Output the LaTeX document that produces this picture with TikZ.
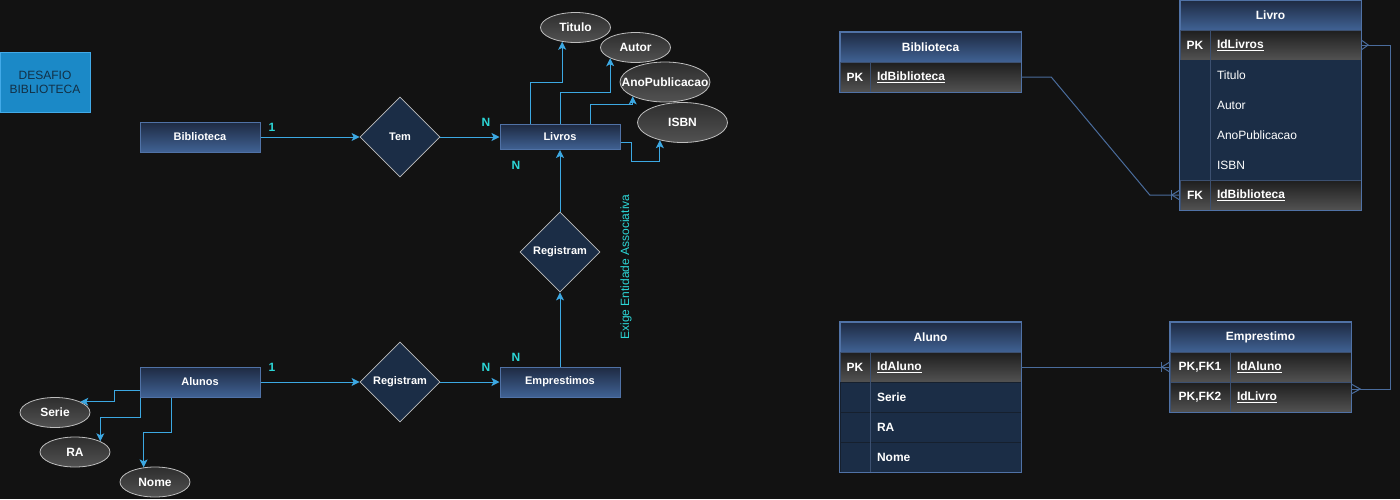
\documentclass[tikz,border=0pt]{standalone}
\usepackage{fontspec}
\setmainfont{Liberation Sans}
\usepackage{xcolor}
\usepackage{tikz}
\usetikzlibrary{shapes.geometric, arrows.meta, positioning, calc, fit}
\definecolor{bgdark}{RGB}{18, 18, 18}
\definecolor{navytop}{RGB}{30, 42, 66}
\definecolor{navybot}{RGB}{64, 98, 148}
\definecolor{navyline}{RGB}{80, 114, 166}
\definecolor{rowfill}{RGB}{27, 45, 70}
\definecolor{rowsep}{RGB}{22, 32, 46}
\definecolor{keytop}{RGB}{30, 30, 30}
\definecolor{keybot}{RGB}{82, 82, 82}
\definecolor{divline}{RGB}{60, 80, 112}
\definecolor{arrowblue}{RGB}{60, 168, 226}
\definecolor{labelcyan}{RGB}{44, 214, 214}
\definecolor{ellline}{RGB}{190, 190, 190}
\definecolor{elltop}{RGB}{46, 46, 46}
\definecolor{ellbot}{RGB}{82, 82, 82}
\definecolor{erblue}{RGB}{74, 108, 156}
\definecolor{desafiofill}{RGB}{27, 137, 199}
\definecolor{desafioline}{RGB}{66, 170, 232}
\definecolor{desafiotext}{RGB}{18, 48, 70}

\begin{document}
\begin{tikzpicture}[
    x=1pt, y=-1pt,
    entity/.style={rectangle, draw=navyline, top color=navytop, bottom color=navybot, line width=1pt, minimum width=120pt, minimum height=30pt, inner sep=0pt, text=white, font=\fontsize{11}{13}\selectfont\bfseries},
    rel/.style={diamond, draw=ellline, fill=rowfill, line width=0.8pt, minimum width=80pt, minimum height=80pt, inner sep=0pt, text=white, font=\fontsize{11}{13}\selectfont\bfseries},
    attr/.style={ellipse, draw=ellline, top color=elltop, bottom color=ellbot, line width=0.8pt, minimum width=70pt, minimum height=30pt, inner sep=0pt, text=white, font=\fontsize{12}{14}\selectfont\bfseries},
    card/.style={inner sep=0pt, text=labelcyan, font=\fontsize{12}{14}\selectfont\bfseries},
    arrow/.style={-{Stealth[length=8pt, width=8pt, inset=2pt]}, draw=arrowblue, line width=1pt},
    thead/.style={rectangle, draw=navyline, top color=navytop, bottom color=navybot, minimum width=181pt, minimum height=30pt, inner sep=0pt, text=white, font=\fontsize{12}{14}\selectfont\bfseries},
    keycell/.style={rectangle, draw=divline, top color=keytop, bottom color=keybot, minimum width=30pt, minimum height=30pt, inner sep=0pt, text=white, font=\fontsize{12}{14}\selectfont\bfseries},
    keyfield/.style={rectangle, draw=divline, top color=keytop, bottom color=keybot, text width=137pt, align=left, minimum height=30pt, inner xsep=7pt, inner ysep=0pt, text=white, font=\fontsize{12}{14}\selectfont\bfseries},
    attrcell/.style={rectangle, fill=rowfill, minimum width=30pt, minimum height=30pt, inner sep=0pt},
    attrfield/.style={rectangle, fill=rowfill, text width=137pt, align=left, minimum height=30pt, inner xsep=7pt, inner ysep=0pt, text=white, font=\fontsize{12}{14}\selectfont},
    frame/.style={rectangle, draw=navyline, line width=0.8pt, inner sep=0pt},
    divider/.style={draw=divline, line width=0.8pt},
    erline/.style={draw=erblue, line width=1pt}
]
    \useasboundingbox (0,0) rectangle (1400,499);
    \fill[bgdark] (0,0) rectangle (1400,499);

    % Conceptual model
    \node[rectangle, draw=desafioline, fill=desafiofill, line width=1pt, minimum width=90pt, minimum height=60pt, inner sep=0pt, align=center, text=desafiotext, font=\fontsize{12}{14}\selectfont] (desafio) at (45,82) {DESAFIO\\BIBLIOTECA};
    \node[entity] (biblioteca) at (200,137) {Biblioteca};
    \node[rel] (tem) at (400,137) {Tem};
    \node[entity, minimum height=25pt] (livros) at (560,137) {Livros};
    \node[attr] (titulo) at (575.5,27.5) {Titulo};
    \node[attr] (autor) at (635.5,47.5) {Autor};
    \node[attr, minimum width=90pt, minimum height=40pt, inner xsep=-14pt] (ano) at (665,82) {AnoPublicacao};
    \node[attr, minimum width=90pt, minimum height=40pt] (isbn) at (682.5,122.5) {ISBN};
    \node[rel] (regliv) at (560,252) {Registram};
    \node[entity] (emprestimos) at (560,382) {Emprestimos};
    \node[rel] (regalu) at (400,382) {Registram};
    \node[entity] (alunos) at (200,382) {Alunos};
    \node[attr] (serie) at (55,412.5) {Serie};
    \node[attr] (ra) at (75,452) {RA};
    \node[attr] (nome) at (155,482) {Nome};
    \node[rotate=90, inner sep=0pt, text=labelcyan, font=\fontsize{12}{14}\selectfont] (exige) at (626,267) {Exige Entidade Associativa};

    % Cardinalities
    \node[card] (card1) at (272,127) {1};
    \node[card] (card2) at (486,122) {N};
    \node[card] (card3) at (516,165) {N};
    \node[card] (card4) at (272,367) {1};
    \node[card] (card5) at (486,367) {N};
    \node[card] (card6) at (516,357) {N};

    % Arrows
    \draw[arrow] (biblioteca) -- (tem);
    \draw[arrow] (tem) -- (livros);
    \draw[arrow] (alunos) -- (regalu);
    \draw[arrow] (regalu) -- (emprestimos);
    \draw[arrow] (emprestimos) -- (regliv);
    \draw[arrow] (regliv) -- (livros);
    \draw[arrow] ($(livros.north)+(-30,0)$) -- ++(0,-42) -| (titulo.227);
    \draw[arrow] (livros.north) -- ++(0,-32) -| (autor.203);
    \draw[arrow] ($(livros.north)+(30,0)$) -- ++(0,-20) -| (ano.204);
    \draw[arrow] ($(livros.east)+(0,5.5)$) -- ++(11,0) -- ++(0,19) -| (isbn.218);
    \draw[arrow] ($(alunos.west)+(0,8)$) -- ++(-25,0) |- (serie.23);
    \draw[arrow] ($(alunos.south west)+(1,0)$) -- ++(0,20) -| (ra.23);
    \draw[arrow] ($(alunos.south)+(-29,0)$) -- ++(0,35) -| (nome.128);

    % Logical model: Biblioteca
    \node[thead] (tbib) at (930.5,47) {Biblioteca};
    \node[keycell] (bibk1) at (855,77) {PK};
    \node[keyfield] (bibf1) at (945.5,77) {\underline{IdBiblioteca}};
    \node[frame, fit=(tbib)(bibk1)(bibf1)] (bibframe) {};

    % Livro
    \node[thead] (tliv) at (1270.5,15) {Livro};
    \node[keycell] (livk1) at (1195,45) {PK};
    \node[keyfield] (livf1) at (1285.5,45) {\underline{IdLivros}};
    \node[attrcell] (livk2) at (1195,75) {};
    \node[attrfield] (livf2) at (1285.5,75) {Titulo};
    \node[attrcell] (livk3) at (1195,105) {};
    \node[attrfield] (livf3) at (1285.5,105) {Autor};
    \node[attrcell] (livk4) at (1195,135) {};
    \node[attrfield] (livf4) at (1285.5,135) {AnoPublicacao};
    \node[attrcell] (livk5) at (1195,165) {};
    \node[attrfield] (livf5) at (1285.5,165) {ISBN};
    \node[keycell] (livk6) at (1195,195) {FK};
    \node[keyfield] (livf6) at (1285.5,195) {\underline{IdBiblioteca}};
    \draw[divider] (livk2.north east) -- (livk5.south east);
    \node[frame, fit=(tliv)(livk6)(livf6)] (livframe) {};

    % Aluno
    \node[thead] (talu) at (930.5,337) {Aluno};
    \node[keycell] (aluk1) at (855,367) {PK};
    \node[keyfield] (aluf1) at (945.5,367) {\underline{IdAluno}};
    \node[attrcell, draw=rowsep] (aluk2) at (855,397) {};
    \node[attrfield, draw=rowsep, font=\fontsize{12}{14}\selectfont\bfseries] (aluf2) at (945.5,397) {Serie};
    \node[attrcell, draw=rowsep] (aluk3) at (855,427) {};
    \node[attrfield, draw=rowsep, font=\fontsize{12}{14}\selectfont\bfseries] (aluf3) at (945.5,427) {RA};
    \node[attrcell, draw=rowsep] (aluk4) at (855,457) {};
    \node[attrfield, draw=rowsep, font=\fontsize{12}{14}\selectfont\bfseries] (aluf4) at (945.5,457) {Nome};
    \draw[divider] (aluk2.north east) -- (aluk4.south east);
    \node[frame, fit=(talu)(aluk4)(aluf4)] (aluframe) {};

    % Emprestimo
    \node[thead] (temp) at (1260.5,337) {Emprestimo};
    \node[keycell, minimum width=60pt] (empk1) at (1200,367) {PK,FK1};
    \node[keyfield, text width=107pt] (empf1) at (1290.5,367) {\underline{IdAluno}};
    \node[keycell, minimum width=60pt] (empk2) at (1200,397) {PK,FK2};
    \node[keyfield, text width=107pt] (empf2) at (1290.5,397) {\underline{IdLivro}};
    \node[frame, fit=(temp)(empk2)(empf2)] (empframe) {};

    % Relationships
    \draw[erline] (bibf1.east) -- ++(30,0) -- ($(livk6.west)+(-30,0)$) -- (livk6.west);
    \draw[erline] ($(livk6.west)+(-8,-5)$) -- ++(0,10);
    \draw[erline] ($(livk6.west)+(0,-5)$) -- ($(livk6.west)+(-8,0)$) -- ($(livk6.west)+(0,5)$);
    \draw[erline] (aluf1.east) -- (empk1.west);
    \draw[erline] ($(empk1.west)+(-8,-5)$) -- ++(0,10);
    \draw[erline] ($(empk1.west)+(0,-5)$) -- ($(empk1.west)+(-8,0)$) -- ($(empk1.west)+(0,5)$);
    \draw[erline] (livf1.east) -- ++(29,0) |- ($(empf2.east)+(0,-8)$);
    \draw[erline] ($(livf1.east)+(0,-5)$) -- ($(livf1.east)+(7,0)$) -- ($(livf1.east)+(0,5)$);
    \draw[erline] ($(empf2.east)+(0,-13)$) -- ($(empf2.east)+(9,-8)$) -- ($(empf2.east)+(0,-3)$);
\end{tikzpicture}
\end{document}
